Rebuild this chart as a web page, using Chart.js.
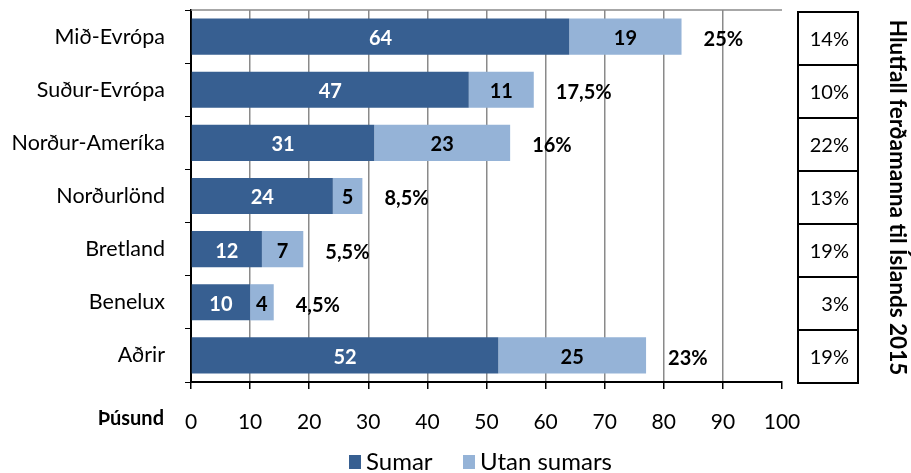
<!DOCTYPE html>
<html>
<head>
<meta charset="utf-8">
<script src="https://cdn.jsdelivr.net/npm/chart.js@4"></script>
<style>
  html, body { margin: 0; padding: 0; background: #fff; }
  #wrap { width: 911px; height: 473px; position: relative; }
</style>
</head>
<body>
<div id="wrap"><canvas id="myChart"></canvas></div>
<script>
// data
const categories = ['Mið-Evrópa', 'Suður-Evrópa', 'Norður-Ameríka', 'Norðurlönd', 'Bretland', 'Benelux', 'Aðrir'];
const sumar = [64, 47, 31, 24, 12, 10, 52];
const utanSumars = [19, 11, 23, 5, 7, 4, 25];
const shareLabels = ['25%', '17,5%', '16%', '8,5%', '5,5%', '4,5%', '23%'];
const tableLabels = ['14%', '10%', '22%', '13%', '19%', '3%', '19%'];
const xTicks = [0, 10, 20, 30, 40, 50, 60, 70, 80, 90, 100];

const FONT = 'Lato, "Open Sans", sans-serif';
const colSumar = '#375f91';
const colUtan = '#95b3d7';

const extras = {
  id: 'extras',
  afterDatasetsDraw(chart) {
    const ctx = chart.ctx;
    const ca = chart.chartArea;
    const xs = chart.scales.x;

    ctx.save();
    // top border of plot
    ctx.strokeStyle = '#8a8a8a';
    ctx.lineWidth = 1.5;
    ctx.beginPath();
    ctx.moveTo(ca.left, ca.top);
    ctx.lineTo(ca.right, ca.top);
    ctx.stroke();

    // segment labels
    ctx.font = 'bold 20px ' + FONT;
    ctx.textAlign = 'center';
    ctx.textBaseline = 'middle';
    chart.data.datasets.forEach((ds, di) => {
      chart.getDatasetMeta(di).data.forEach((bar, i) => {
        const cx = (bar.x + bar.base) / 2;
        ctx.fillStyle = di === 0 ? '#fff' : '#000';
        ctx.fillText(String(ds.data[i]), cx, bar.y + 2);
      });
    });

    // share labels after each stack
    ctx.fillStyle = '#000';
    ctx.font = 'bold 20px ' + FONT;
    ctx.textAlign = 'left';
    const meta = chart.getDatasetMeta(1);
    meta.data.forEach((bar, i) => {
      const end = xs.getPixelForValue(sumar[i] + utanSumars[i]);
      ctx.fillText(shareLabels[i], end + 22, bar.y + 3);
    });

    // table on the right
    const tl = 798, tr = 858, tt = ca.top + 2, tb = ca.bottom + 1;
    const rh = (tb - tt) / tableLabels.length;
    ctx.strokeStyle = '#000';
    ctx.lineWidth = 2;
    ctx.strokeRect(tl, tt, tr - tl, tb - tt);
    ctx.font = '20px ' + FONT;
    ctx.textAlign = 'right';
    tableLabels.forEach((t, i) => {
      if (i > 0) {
        ctx.beginPath();
        ctx.moveTo(tl, tt + rh * i);
        ctx.lineTo(tr, tt + rh * i);
        ctx.stroke();
      }
      ctx.fillText(t, 849, tt + rh * (i + 0.5) + 1);
    });

    // rotated title
    ctx.save();
    ctx.translate(897, (tt + tb) / 2);
    ctx.rotate(Math.PI / 2);
    ctx.textAlign = 'center';
    ctx.font = 'bold 22.5px ' + FONT;
    ctx.fillText('Hlutfall ferðamanna til Íslands 2015', 0, 0);
    ctx.restore();

    // unit label
    ctx.textAlign = 'right';
    ctx.font = 'bold 20px ' + FONT;
    ctx.fillText('Þúsund', 164, 419);

    // legend
    ctx.textAlign = 'left';
    ctx.font = '24px ' + FONT;
    ctx.fillStyle = colSumar;
    ctx.fillRect(349, 455, 12, 14);
    ctx.fillStyle = colUtan;
    ctx.fillRect(463, 455, 12, 14);
    ctx.fillStyle = '#000';
    ctx.fillText('Sumar', 366, 462);
    ctx.fillText('Utan sumars', 480, 462);
    ctx.restore();
  }
};

new Chart(document.getElementById('myChart'), {
  type: 'bar',
  data: {
    labels: categories,
    datasets: [
      { label: 'Sumar', data: sumar, backgroundColor: colSumar },
      { label: 'Utan sumars', data: utanSumars, backgroundColor: colUtan }
    ]
  },
  options: {
    indexAxis: 'y',
    responsive: true,
    maintainAspectRatio: false,
    animation: false,
    layout: { padding: { top: 10, right: 129, left: 0, bottom: 0 } },
    plugins: { legend: { display: false }, tooltip: { enabled: false } },
    datasets: { bar: { barPercentage: 0.68, categoryPercentage: 1 } },
    scales: {
      x: {
        stacked: true,
        min: 0, max: 100,
        afterBuildTicks: (s) => { s.ticks = xTicks.map(v => ({ value: v })); },
        afterFit: (s) => { s.height = 91; s.paddingLeft = 0; s.paddingRight = 0; },
        border: { color: '#000', width: 2 },
        grid: {
          color: (c) => (c.tick && c.tick.value === 100) ? 'rgba(0,0,0,0)' : '#8a8a8a',
          lineWidth: 1.5,
          tickColor: '#000',
          tickLength: 7
        },
        ticks: { color: '#000', font: { family: FONT, size: 21 }, padding: 21, maxRotation: 0 }
      },
      y: {
        stacked: true,
        afterFit: (s) => { s.width = 191; s.paddingTop = 0; s.paddingBottom = 0; },
        border: { color: '#000', width: 2 },
        grid: { drawOnChartArea: false, tickColor: '#000', tickLength: 6, offset: true },
        ticks: { color: '#000', font: { family: FONT, size: 21.5 }, padding: 20 }
      }
    }
  },
  plugins: [extras]
});
</script>
</body>
</html>
